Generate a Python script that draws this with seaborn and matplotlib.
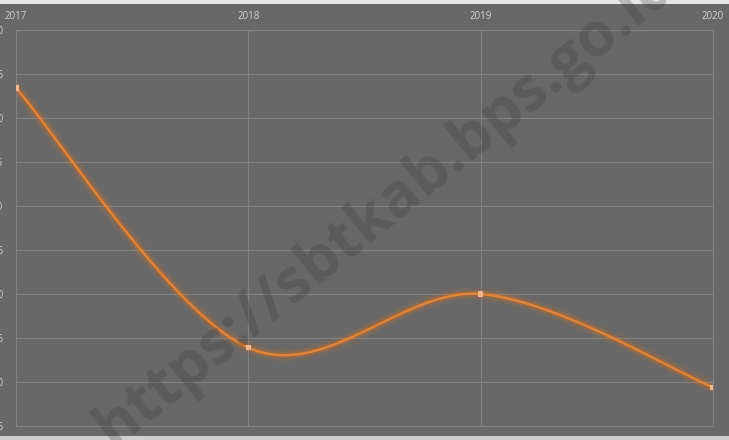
import numpy as np
import pandas as pd
import matplotlib
matplotlib.use('Agg')
import matplotlib.pyplot as plt
import seaborn as sns

years = [2017, 2018, 2019, 2020]
values = [53.4, 23.9, 30.0, 19.4]
y_ticks = [15, 20, 25, 30, 35, 40, 45, 50, 55, 60]

BG = '#686868'
GRID = '#828282'
ORANGE = '#f5801f'


def smooth_curve(xs, ys, n=60):
    # Catmull-Rom style smoothing like a spreadsheet "smoothed line"
    pts = np.column_stack([xs, ys]).astype(float)
    ext = np.vstack([pts[0], pts, pts[-1]])
    out = []
    for i in range(1, len(ext) - 2):
        p0, p1, p2, p3 = ext[i - 1], ext[i], ext[i + 1], ext[i + 2]
        t = np.linspace(0, 1, n)[:, None]
        c1 = p1 + (p2 - p0) / 6
        c2 = p2 - (p3 - p1) / 6
        seg = ((1 - t) ** 3) * p1 + 3 * ((1 - t) ** 2) * t * c1 + 3 * (1 - t) * t ** 2 * c2 + t ** 3 * p2
        out.append(seg if i == 1 else seg[1:])
    out = np.vstack(out)
    return pd.DataFrame({'year': out[:, 0], 'value': out[:, 1]})


sns.set_style('white')
plt.rcParams['font.family'] = ['Open Sans', 'DejaVu Sans']

fig = plt.figure(figsize=(7.29, 4.40), dpi=100, facecolor=BG)
ax = fig.add_axes([16 / 729, 14 / 440, 697 / 729, 396 / 440])
ax.set_facecolor(BG)

curve = smooth_curve(years, values)

# soft glow under the line
for lw, a in [(10, 0.05), (7, 0.08), (4.5, 0.13)]:
    sns.lineplot(data=curve, x='year', y='value', ax=ax, color=ORANGE, lw=lw, alpha=a,
                 sort=False, estimator=None)
sns.lineplot(data=curve, x='year', y='value', ax=ax, color=ORANGE, lw=1.7, sort=False, estimator=None)
sns.scatterplot(x=years, y=values, ax=ax, marker='s', s=14, color='#f7b58a', edgecolor='none', zorder=5)

ax.set_xlim(years[0], years[-1])
ax.set_ylim(y_ticks[0], y_ticks[-1])
ax.set_xticks(years)
ax.set_yticks(y_ticks)
ax.xaxis.tick_top()
ax.tick_params(axis='x', colors='#d2d2d2', labelsize=7, length=0, pad=6)
ax.tick_params(axis='y', colors='#d2d2d2', labelsize=7, length=0, pad=9)
ax.grid(True, color=GRID, lw=0.8)
for s in ax.spines.values():
    s.set_color(GRID)
    s.set_linewidth(0.8)
ax.set_xlabel('')
ax.set_ylabel('')

# thin light strips at the top and bottom edges
fig.patches.append(plt.Rectangle((0, 1 - 4 / 440), 1, 4 / 440, transform=fig.transFigure,
                                 facecolor='#e6e6e6', edgecolor='none'))
fig.patches.append(plt.Rectangle((0, 0), 1, 4 / 440, transform=fig.transFigure,
                                 facecolor='#cfcfcf', edgecolor='none'))

# watermark
fig.text(0.53, 0.53, 'https://sbtkab.bps.go.id', fontsize=44, fontweight='bold', color='#3c3c3c',
         alpha=0.28, rotation=39, ha='center', va='center', family=['Open Sans', 'DejaVu Sans'])

fig.savefig('out.png', dpi=100, facecolor=BG)
